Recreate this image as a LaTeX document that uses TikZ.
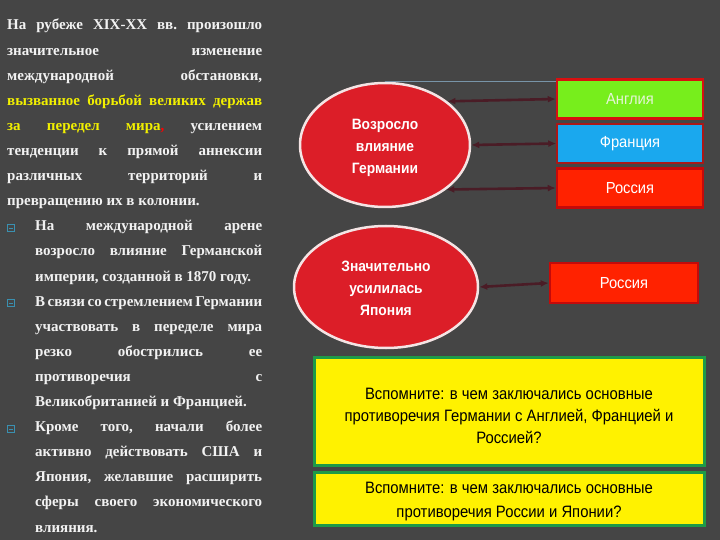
\documentclass[tikz,border=0pt]{standalone}
\usepackage{fontspec}
\setmainfont{Liberation Serif}
\newfontfamily\sansf{Liberation Sans}
\newfontfamily\narrowf[FakeStretch=0.92]{Liberation Sans}
\newfontfamily\qfont[FakeStretch=0.9]{Liberation Sans}
\usetikzlibrary{shapes.geometric,arrows.meta}
\definecolor{bg}{HTML}{454545}
\definecolor{txt}{HTML}{F2F2F2}
\definecolor{ylw}{HTML}{F2F000}
\definecolor{ellred}{HTML}{DC1E28}
\definecolor{ellrim}{HTML}{F4E4E4}
\definecolor{arrc}{HTML}{4A1C26}
\definecolor{angg}{HTML}{77EE1C}
\definecolor{frb}{HTML}{1AA8EE}
\definecolor{rur}{HTML}{FF2200}
\definecolor{bord}{HTML}{D81010}
\definecolor{grb}{HTML}{1E9A48}
\definecolor{bul}{HTML}{3A90B0}
\definecolor{lblue}{HTML}{7894A8}
\definecolor{angt}{HTML}{E6F4D8}
\definecolor{frbord}{HTML}{A81818}
\definecolor{rubord}{HTML}{C40A0A}
\tikzset{
  line/.style={anchor=base west, inner sep=0pt, text=txt, font=\fontsize{15}{17}\selectfont\bfseries\frenchspacing},
  ell/.style={ellipse, fill=ellred, draw=ellrim, line width=2.5pt, text=white,
     font=\narrowf\fontsize{15}{22}\selectfont\bfseries, inner sep=0pt},
  cbox/.style={rectangle, minimum width=146pt, minimum height=39pt, inner sep=0pt,
     font=\narrowf\fontsize{16}{17}\selectfont, text=white, line width=2.5pt},
  qbox/.style={rectangle, fill=yellow, draw=grb, line width=3pt, minimum width=390pt, inner sep=0pt,
     text=black},
  arr/.style={{Latex[length=8pt,width=7pt]}-{Latex[length=8pt,width=7pt]}, draw=arrc, line width=2.6pt},
  bulbox/.style={draw=bul, line width=0.9pt, minimum size=6.5pt, inner sep=0pt}
}
\newcommand\jl[2]{\makebox[#1][s]{#2}}
\newcommand\stk[2]{\raisebox{#1}[0pt][0pt]{\begin{tabular}{@{}c@{}}#2\end{tabular}}}
\begin{document}
\begin{tikzpicture}[x=1pt,y=-1pt]
\fill[bg] (0,0) rectangle (720,540);
\useasboundingbox (0,0) rectangle (720,540);
% left text
\node[line] (t1) at (7,30) {\jl{255pt}{На рубеже XIX-XX вв. произошло}};
\node[line] (t2) at (7,55.1) {\jl{255pt}{значительное изменение}};
\node[line] (t3) at (7,80.2) {\jl{255pt}{международной обстановки,}};
\node[line,text=ylw] (t4) at (7,105.3) {\jl{255pt}{вызванное борьбой великих держав}};
\node[line] (t5) at (7,130.4) {\jl{255pt}{\textcolor{ylw}{за передел мира}\textcolor{red}{,} усилением}};
\node[line] (t6) at (7,155.5) {\jl{255pt}{тенденции к прямой аннексии}};
\node[line] (t7) at (7,180.6) {\jl{255pt}{различных территорий и}};
\node[line] (t8) at (7,205.7) {превращению их в колонии.};
\node[bulbox] (b1) at (11,228) {};
\node[line] (t9) at (35,230.8) {\jl{227pt}{На международной арене}};
\node[line] (t10) at (35,255.9) {\jl{227pt}{возросло влияние Германской}};
\node[line] (t11) at (35,281) {империи, созданной в 1870 году.};
\node[bulbox] (b2) at (11,303) {};
\node[line] (t12) at (35,306.1) {\jl{227pt}{В связи со стремлением Германии}};
\node[line] (t13) at (35,331.2) {\jl{227pt}{участвовать в переделе мира}};
\node[line] (t14) at (35,356.3) {\jl{227pt}{резко обострились ее}};
\node[line] (t15) at (35,381.4) {\jl{227pt}{противоречия с}};
\node[line] (t16) at (35,406.5) {Великобританией и Францией.};
\node[bulbox] (b3) at (11,429) {};
\node[line] (t17) at (35,431.6) {\jl{227pt}{Кроме того, начали более}};
\node[line] (t18) at (35,456.7) {\jl{227pt}{активно действовать США и}};
\node[line] (t19) at (35,481.8) {\jl{227pt}{Япония, желавшие расширить}};
\node[line] (t20) at (35,506.9) {\jl{227pt}{сферы своего экономического}};
\node[line] (t21) at (35,532) {влияния.};
\foreach \b in {b1,b2,b3} {\draw[bul, line width=0.7pt] ([shift={(1.5pt,0)}]\b.west) -- ([shift={(-1.5pt,0)}]\b.east);}
% diagram
\node[ell, minimum width=170pt, minimum height=124pt] (e1) at (385,145) {\stk{-6pt}{Возросло\\влияние\\Германии}};
\node[ell, minimum width=184pt, minimum height=122pt] (e2) at (386,287) {\stk{-6pt}{Значительно\\усилилась\\Япония}};
\node[cbox, fill=angg, draw=bord, text=angt] (ang) at (630,99) {Англия};
\node[cbox, fill=frb, draw=frbord, line width=1.5pt] (fr) at (630,143.5) {Франция};
\node[cbox, fill=rur, draw=rubord] (ru) at (630,188) {Россия};
\node[cbox, fill=rur, draw=rubord, minimum width=148pt, minimum height=40pt] (ru2) at (624,283) {Россия};
\coordinate (lt) at (e1.north -| ang.west);
\draw[lblue, line width=0.8pt] (e1.north) -- (lt);
\draw[arr] (e1.35) -- (ang.west);
\draw[arr] (e1.east) -- (fr.west);
\draw[arr] (e1.-36) -- (ru.west);
\draw[arr] (e2.east) -- (ru2.west);
\node[qbox, minimum height=108pt, font=\qfont\fontsize{16.5}{22}\selectfont] (q1) at (509,411.5) {\stk{-10pt}{Вспомните: в чем заключались основные\\противоречия Германии с Англией, Францией и\\Россией?}};
\node[qbox, minimum height=53pt, font=\qfont\fontsize{16.5}{24}\selectfont] (q2) at (509,498.5) {\stk{-7pt}{Вспомните: в чем заключались основные\\противоречия России и Японии?}};
\end{tikzpicture}
\end{document}
